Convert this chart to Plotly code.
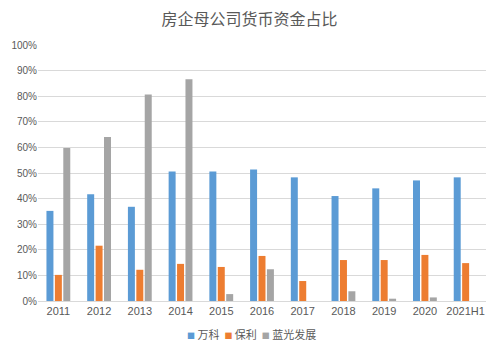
import plotly.graph_objects as go

categories = ["2011", "2012", "2013", "2014", "2015", "2016", "2017", "2018", "2019", "2020", "2021H1"]
vanke = [35.2, 41.7, 36.8, 50.6, 50.6, 51.4, 48.3, 41.0, 44.0, 47.1, 48.3]
poly = [10.2, 21.6, 12.2, 14.5, 13.3, 17.6, 7.8, 16.0, 16.0, 18.0, 14.8]
lanco = [59.8, 64.1, 80.7, 86.6, 2.7, 12.4, 0.0, 3.8, 0.9, 1.4, 0.0]
series_names = ["万科", "保利", "蓝光发展"]
colors = ["#5B9BD5", "#ED7D31", "#A5A5A5"]
y_ticks = list(range(0, 101, 10))
y_ticktext = [f"{v}%" for v in y_ticks]

fig = go.Figure()
for name, vals, c in zip(series_names, [vanke, poly, lanco], colors):
    fig.add_trace(go.Bar(x=categories, y=vals, name=name, marker_color=c,
                         marker_line_width=0))

font_cjk = "Noto Sans CJK SC, Noto Sans, sans-serif"
legend_html = "&nbsp;&nbsp;".join(
    f"<span style='color:{c}; font-size:8px'>■</span><span> {n}</span>"
    for n, c in zip(series_names, colors)
)

fig.update_layout(
    width=499, height=351,
    margin=dict(l=38, r=13, t=45, b=50, autoexpand=False),
    paper_bgcolor="white", plot_bgcolor="white",
    title=dict(text="房企母公司货币资金占比", x=0.5, xanchor="center", y=0.945, yanchor="middle",
               font=dict(family=font_cjk, size=16, color="#595959")),
    barmode="group", bargap=0.38, bargroupgap=0.17,
    showlegend=False,
    annotations=[dict(text=legend_html, xref="paper", yref="paper", x=0.477, y=-0.13,
                      xanchor="center", yanchor="middle", showarrow=False,
                      font=dict(family=font_cjk, size=11, color="#595959"))],
    xaxis=dict(type="category", showgrid=False, showline=True, linecolor="#D9D9D9",
               ticks="", tickfont=dict(family="Liberation Sans, Arial, sans-serif", size=11, color="#595959")),
    yaxis=dict(range=[0, 100], tickvals=y_ticks, ticktext=y_ticktext, showgrid=True,
               gridcolor="#D9D9D9", gridwidth=1, zeroline=False, showline=False,
               tickfont=dict(family="Liberation Sans, Arial, sans-serif", size=10, color="#595959")),
)

fig.write_html("out.html")
